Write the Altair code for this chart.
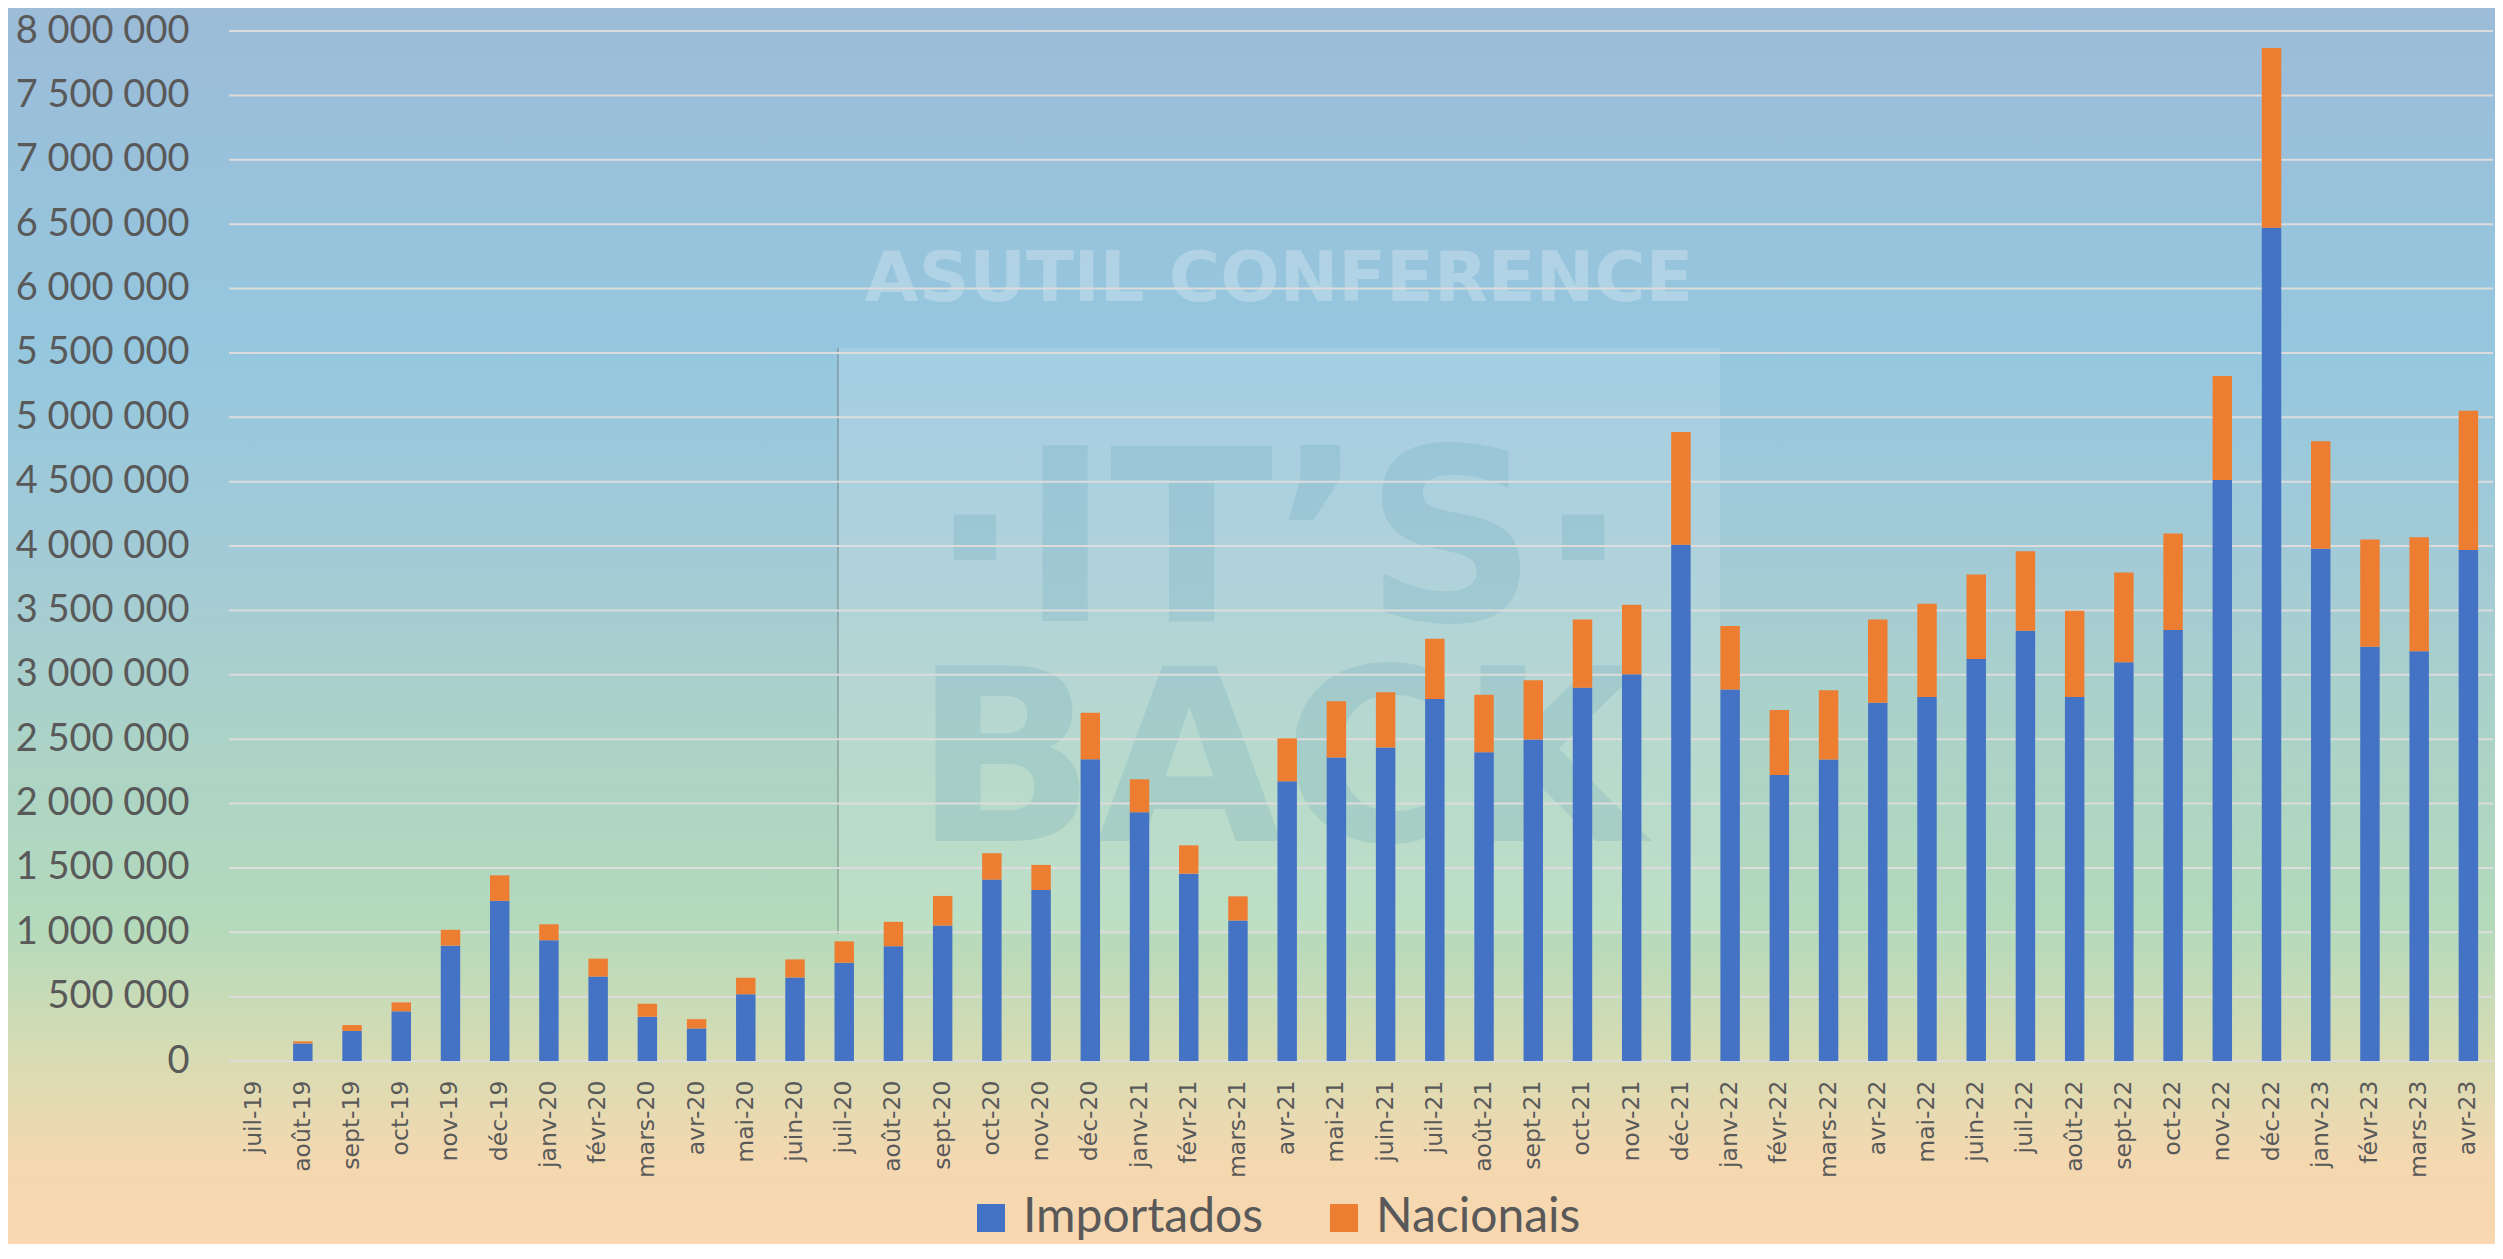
import altair as alt
import pandas as pd

months = ["juil-19", "août-19", "sept-19", "oct-19", "nov-19", "déc-19",
          "janv-20", "févr-20", "mars-20", "avr-20", "mai-20", "juin-20",
          "juil-20", "août-20", "sept-20", "oct-20", "nov-20", "déc-20",
          "janv-21", "févr-21", "mars-21", "avr-21", "mai-21", "juin-21",
          "juil-21", "août-21", "sept-21", "oct-21", "nov-21", "déc-21",
          "janv-22", "févr-22", "mars-22", "avr-22", "mai-22", "juin-22",
          "juil-22", "août-22", "sept-22", "oct-22", "nov-22", "déc-22",
          "janv-23", "févr-23", "mars-23", "avr-23"]

importados = [0, 136000, 234000, 386000, 896000, 1244000,
              938000, 656000, 344000, 253000, 519000, 649000,
              763000, 892000, 1052000, 1409000, 1328000, 2344000,
              1932000, 1455000, 1091000, 2172000, 2357000, 2435000,
              2812000, 2399000, 2497000, 2899000, 3003000, 4009000,
              2886000, 2221000, 2341000, 2782000, 2828000, 3123000,
              3341000, 2828000, 3097000, 3347000, 4513000, 6472000,
              3978000, 3218000, 3182000, 3968000]

nacionais = [0, 17000, 45000, 69000, 123000, 198000,
             124000, 139000, 101000, 72000, 127000, 140000,
             166000, 189000, 230000, 205000, 195000, 361000,
             256000, 220000, 188000, 334000, 438000, 429000,
             467000, 445000, 461000, 531000, 541000, 877000,
             493000, 506000, 539000, 648000, 723000, 655000,
             618000, 669000, 697000, 751000, 807000, 1395000,
             835000, 833000, 885000, 1083000]

series = ["Importados", "Nacionais"]
colors = ["#4472C4", "#ED7D31"]
y_ticks = [0, 500000, 1000000, 1500000, 2000000, 2500000, 3000000, 3500000,
           4000000, 4500000, 5000000, 5500000, 6000000, 6500000, 7000000,
           7500000, 8000000]

rows = []
for m, a, b in zip(months, importados, nacionais):
    rows.append({"month": m, "series": series[0], "value": a, "ord": 0})
    rows.append({"month": m, "series": series[1], "value": b, "ord": 1})
df = pd.DataFrame(rows)

W, H = 2264, 1030
PAD = {"left": 221, "top": 23, "right": 2, "bottom": 183}
TEXT = "#595959"

yscale = alt.Scale(domain=[0, 8000000], nice=False, zero=True)
yaxis = alt.Axis(values=y_ticks, format=",d", grid=False, domain=False, ticks=False,
                 labelFont="Lato", labelFontSize=38, labelColor=TEXT,
                 labelPadding=40, title=None, zindex=1)

one = pd.DataFrame({"k": [0]})

bg = alt.Chart(one).mark_rect(
    fill=alt.LinearGradient(
        gradient="linear", x1=0, x2=0, y1=0, y2=1,
        stops=[alt.GradientStop(color="#9cbcd8", offset=0),
               alt.GradientStop(color="#95c7df", offset=0.28),
               alt.GradientStop(color="#a3cbd6", offset=0.45),
               alt.GradientStop(color="#acd3c6", offset=0.6),
               alt.GradientStop(color="#b3dabb", offset=0.74),
               alt.GradientStop(color="#d8dcb3", offset=0.85),
               alt.GradientStop(color="#f3d8b0", offset=0.93),
               alt.GradientStop(color="#f9d7b0", offset=1.0)])
).encode(x=alt.value(-PAD["left"]), x2=alt.value(W + PAD["right"]),
         y=alt.value(-PAD["top"]), y2=alt.value(H + PAD["bottom"]))

panel = alt.Chart(one).mark_rect(fill="white", opacity=0.14).encode(
    x=alt.value(609), x2=alt.value(1491), y=alt.value(317), y2=alt.value(903))
vline = alt.Chart(one).mark_rule(color="#555555", strokeWidth=1, opacity=0.6).encode(
    x=alt.value(609), y=alt.value(317), y2=alt.value(903))

wm1 = alt.Chart(one).mark_text(font="DejaVu Sans", fontWeight="bold", fontSize=70,
                               color="white", opacity=0.25, baseline="middle",
                               align="center").encode(
    x=alt.value(1050), y=alt.value(249), text=alt.value("ASUTIL CONFERENCE"))
wm2 = alt.Chart(one).mark_text(font="DejaVu Sans", fontWeight="bold", fontSize=240,
                               lineHeight=220, color="#5f9fb8", opacity=0.2,
                               baseline="top", align="center").encode(
    x=alt.value(1050), y=alt.value(400), text=alt.value(["·IT’S·", "BACK"]))

grid = alt.Chart(pd.DataFrame({"tick": y_ticks})).mark_rule(
    color="#dcdcdc", strokeWidth=2).encode(
    y=alt.Y("tick:Q", scale=yscale, axis=yaxis))

bars = alt.Chart(df).mark_bar().encode(
    x=alt.X("month:N", sort=months,
            scale=alt.Scale(paddingInner=0.605, paddingOuter=0.3025),
            axis=alt.Axis(title=None, labelAngle=270, labelFont="DejaVu Sans",
                          labelFontSize=23.5, labelColor=TEXT, labelPadding=19,
                          domain=False, ticks=False, grid=False,
                          labelOverlap=False, zindex=1)),
    y=alt.Y("value:Q", stack="zero", scale=yscale, axis=yaxis),
    color=alt.Color("series:N",
                    scale=alt.Scale(domain=series, range=colors),
                    legend=alt.Legend(orient="none", legendX=738, legendY=1163,
                                      direction="horizontal", title=None,
                                      symbolType="square", symbolSize=784,
                                      symbolStrokeWidth=0, symbolOpacity=1,
                                      labelFont="Lato", labelFontSize=48,
                                      labelColor=TEXT, labelOffset=8,
                                      labelLimit=500,
                                      columnPadding=56, padding=0)),
    order=alt.Order("ord:Q", sort="ascending"),
)

chart = alt.layer(bg, panel, vline, wm1, wm2, grid, bars).properties(
    width=W, height=H, padding=PAD,
    autosize=alt.AutoSizeParams(type="none"),
).configure(
    locale={"number": {"decimal": ",", "thousands": " ", "grouping": [3],
                       "currency": ["", " €"]}}
).configure_view(stroke=None)

chart.save("out.html", embed_options={"renderer": "svg", "actions": False})
